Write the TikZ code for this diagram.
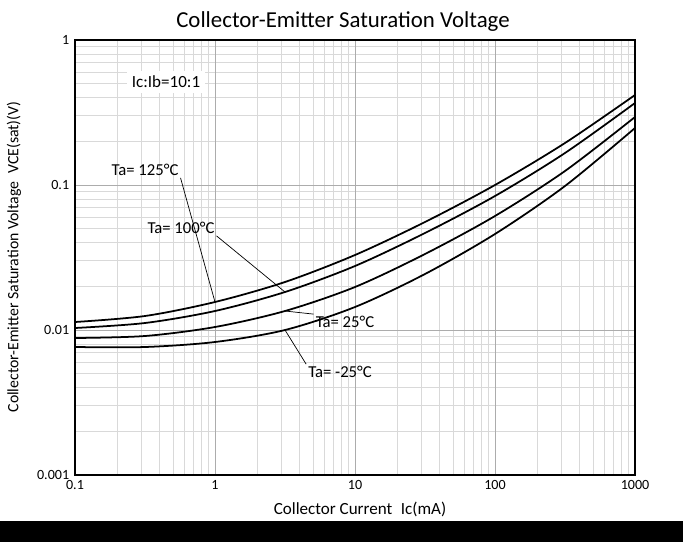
\documentclass[tikz,border=0pt]{standalone}
\usepackage{fontspec}
\setmainfont{Carlito}
\usetikzlibrary{positioning}

\begin{document}
\begin{tikzpicture}[x=0.02cm, y=-0.02cm,
    minor/.style={gray!30, line width=0.4pt},
    major/.style={gray!65, line width=0.5pt},
    curve/.style={line width=1pt, black},
    tick/.style={font=\fontsize{8}{9}\selectfont, inner sep=2pt},
    temp/.style={font=\fontsize{9.5}{11}\selectfont, inner sep=1pt},
    lead/.style={line width=0.4pt}]

\useasboundingbox (0,0) rectangle (683,542);

% log grid (x: 0.1 .. 1000 mA, y: 0.001 .. 1 V)
\foreach \d in {0,...,3}
  \foreach \m in {2,...,9} {
    \pgfmathsetmacro\gx{75+140*(\d+log10(\m))}
    \draw[minor] (\gx,40) -- (\gx,475);
  }
\foreach \d in {0,...,2}
  \foreach \m in {2,...,9} {
    \pgfmathsetmacro\gy{475-145*(\d+log10(\m))}
    \draw[minor] (75,\gy) -- (635,\gy);
  }
\foreach \i in {1,...,3}
  \draw[major] ({75+140*\i},40) -- ({75+140*\i},475);
\foreach \i in {1,2}
  \draw[major] (75,{475-145*\i}) -- (635,{475-145*\i});
\draw[black, line width=0.6pt] (75,40) rectangle (635,475);

% tick labels
\foreach \v [count=\i from 0] in {0.1,1,10,100,1000}
  \node[tick, below] (xt\i) at ({75+140*\i},477) {\v};
\foreach \v [count=\i from 0] in {0.001,0.01,0.1,1}
  \node[tick, left] (yt\i) at (73,{475-145*\i}) {\v};

% titles
\node[font=\fontsize{13}{15}\selectfont] (title) at (343,22) {Collector-Emitter Saturation Voltage};
\node[font=\fontsize{9.7}{11}\selectfont] (xlab) at (360,509) {Collector Current\enspace Ic(mA)};
\node[font=\fontsize{9}{10}\selectfont, rotate=90] (ylab) at (14,257) {Collector-Emitter Saturation Voltage\enspace VCE(sat)(V)};
\node[temp, fill=white, inner sep=3pt, font=\fontsize{9.7}{11}\selectfont] (ratio) at (166,82) {Ic:Ib=10:1};

% curves
\draw[curve] plot[smooth] coordinates {(75,322) (145,316) (215,302) (285,282) (355,255) (425,222) (495,185) (565,143) (635,95)};
\draw[curve] plot[smooth] coordinates {(75,328) (145,323) (215,311) (285,292) (355,266) (425,233) (495,196) (565,153) (635,103)};
\draw[curve] plot[smooth] coordinates {(75,338) (145,336) (215,327) (285,311) (355,287) (425,254) (495,216) (565,171) (635,117)};
\draw[curve] plot[smooth] coordinates {(75,347) (145,347) (215,342) (285,330) (355,307) (425,274) (495,234) (565,186) (635,128)};

\coordinate (c125) at (215,302);
\coordinate (c100) at (285,292);
\coordinate (c25) at (285,311);
\coordinate (cm25) at (285,330);

% temperature labels
\node[temp] (t125) at (145,170) {Ta= 125°C};
\node[temp] (t100) at (181,228) {Ta= 100°C};
\node[temp] (t25) at (345,322) {Ta= 25°C};
\node[temp] (tm25) at (340,372) {Ta= -25°C};

\draw[lead] (t125.south east) -- (c125);
\draw[lead] (t100.south east) -- (c100);
\draw[lead] (t25.north west) -- (c25);
\draw[lead] (tm25.north west) -- (cm25);

% dark band at the foot
\fill[black] (0,521) rectangle (683,542);
\end{tikzpicture}
\end{document}
